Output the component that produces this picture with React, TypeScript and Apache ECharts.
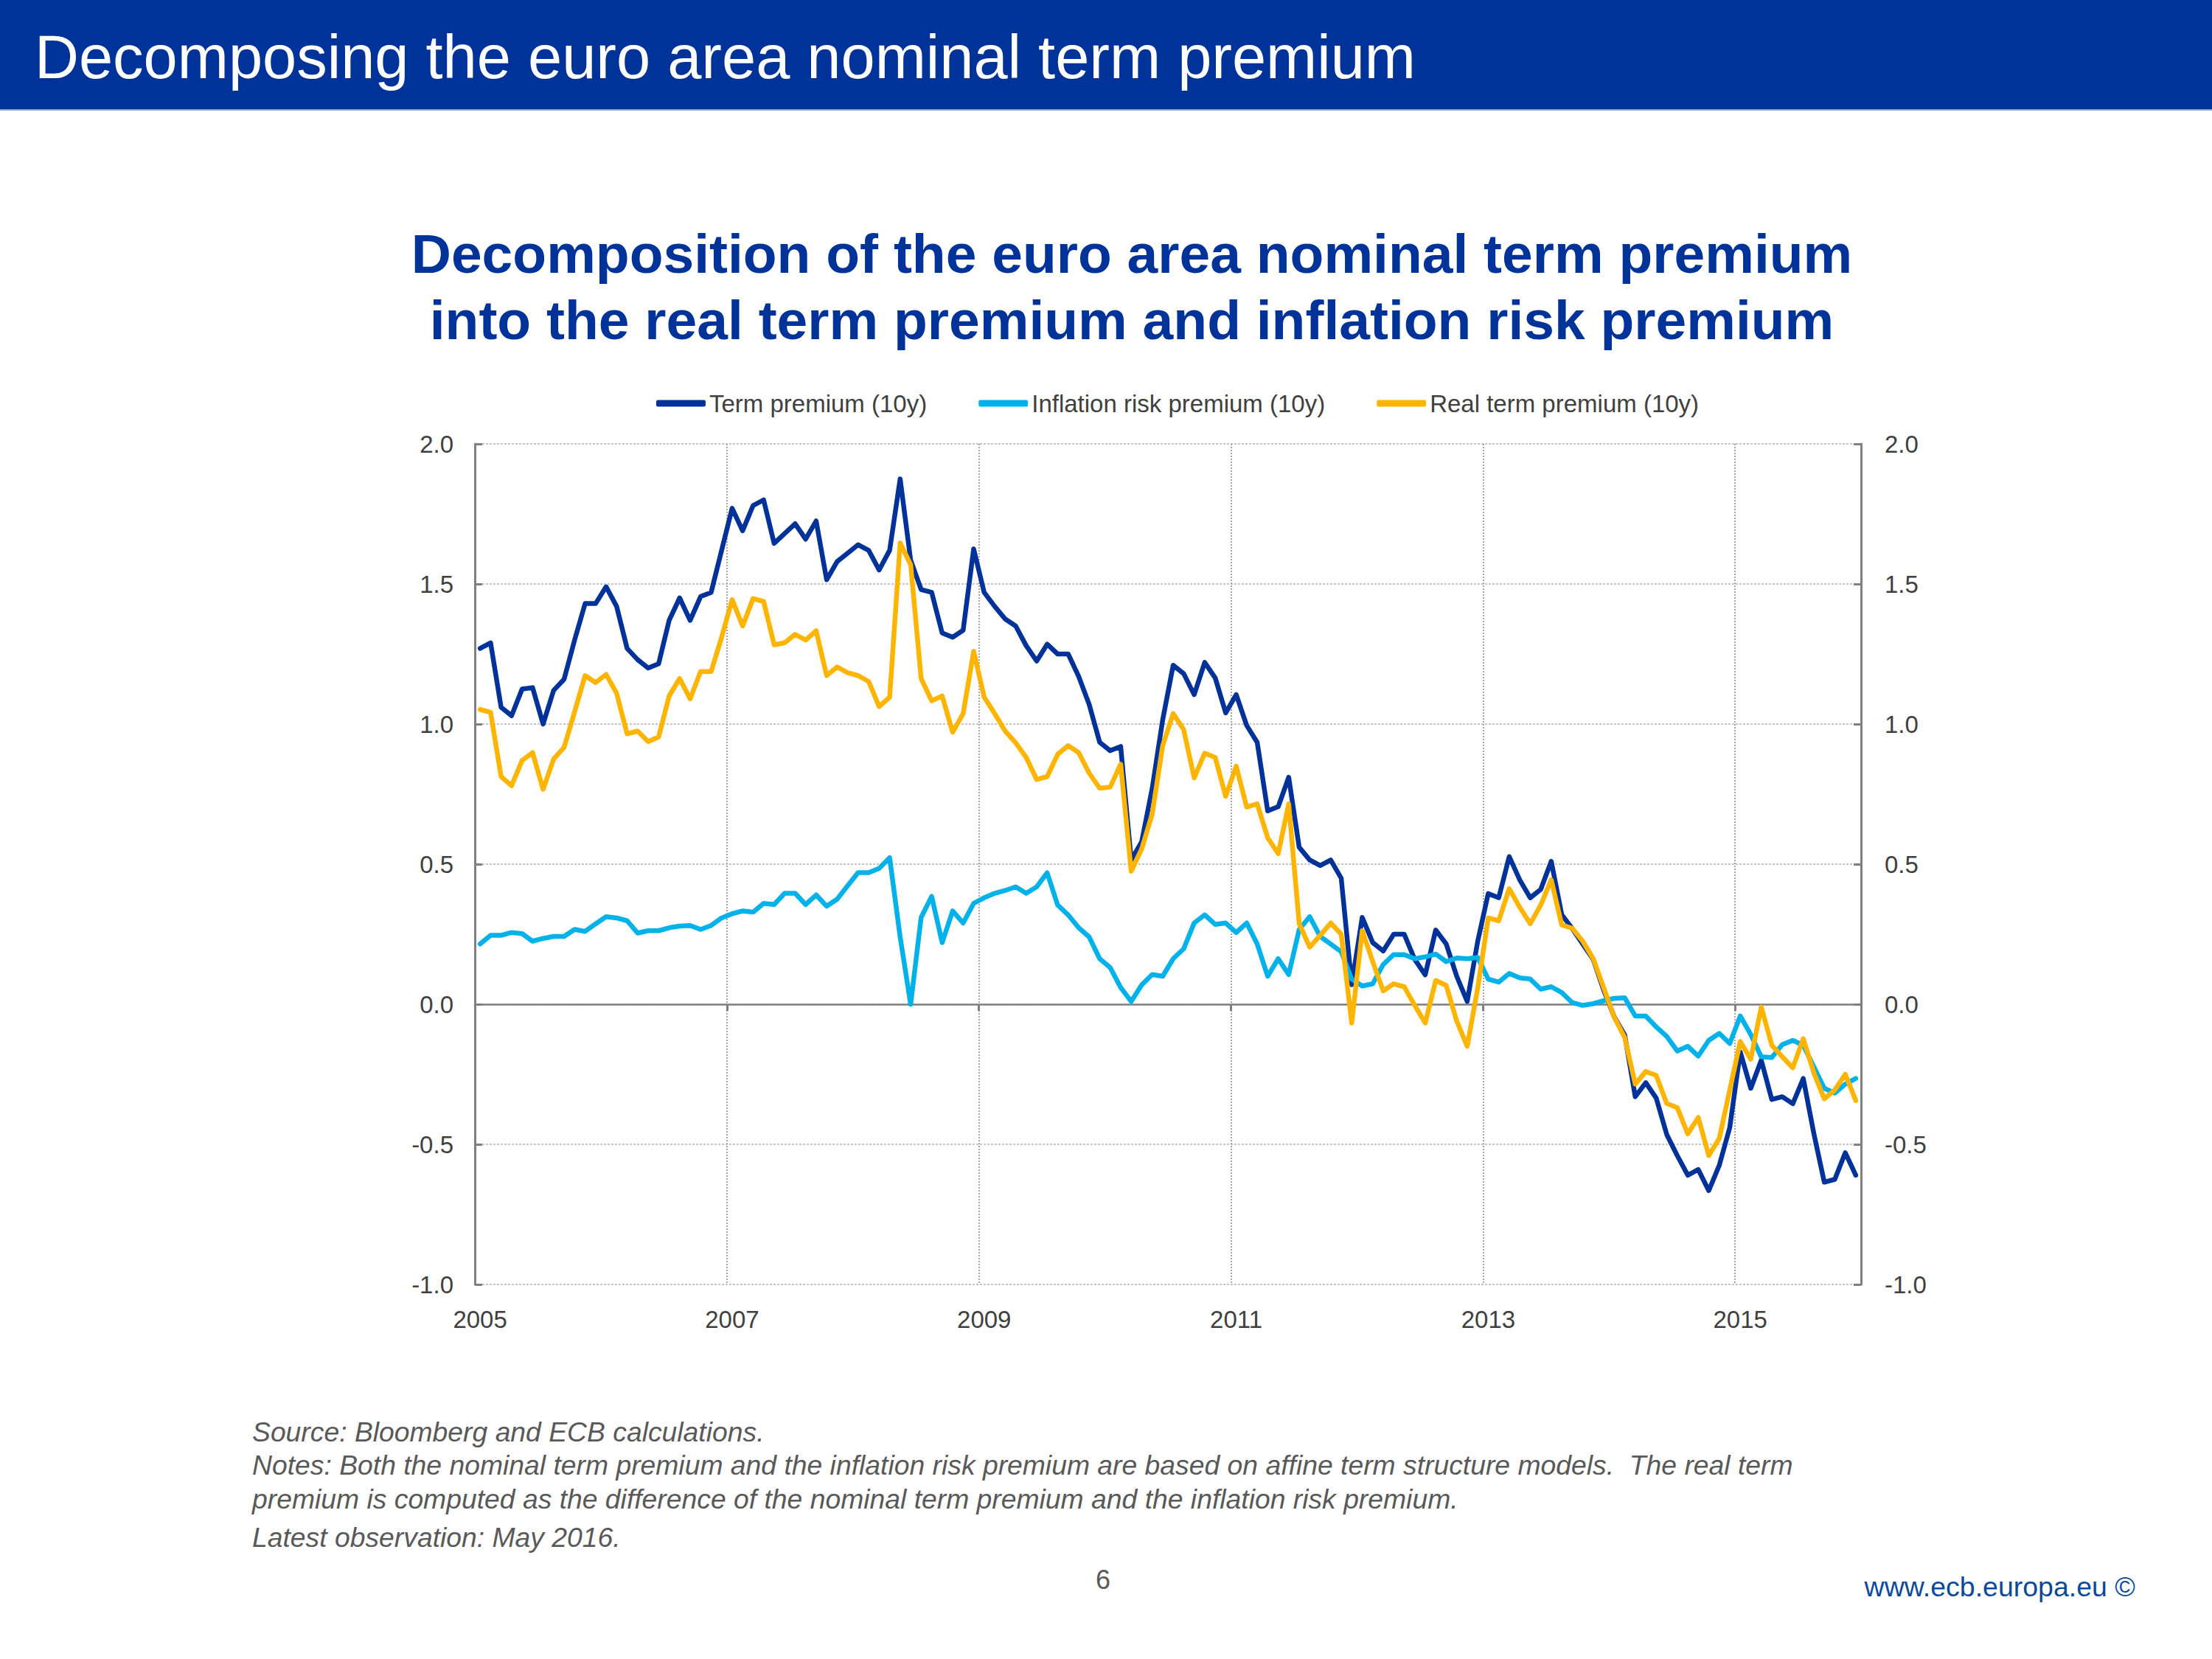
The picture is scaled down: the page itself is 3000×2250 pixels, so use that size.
import React, { useEffect, useRef } from "react";
import * as echarts from "echarts";

// ---------- data ----------
const START_YEAR = 2005;
const MONTH_COUNT = 132; // Jan 2005 .. Dec 2015
const months: string[] = Array.from({ length: MONTH_COUNT }, (_, i) =>
  `${START_YEAR + Math.floor(i / 12)}-${String((i % 12) + 1).padStart(2, "0")}`
);
const YEAR_LABEL_STEP = 24; // label every second January

const seriesNames = ["Term premium (10y)", "Inflation risk premium (10y)", "Real term premium (10y)"];

const termPremium = [
  1.27, 1.29, 1.06, 1.03, 1.125, 1.13, 1.0, 1.12, 1.16, 1.3, 1.43, 1.43,
  1.49, 1.42, 1.27, 1.23, 1.2, 1.215, 1.37, 1.45, 1.37, 1.455, 1.47, 1.62,
  1.77, 1.69, 1.78, 1.8, 1.645, 1.68, 1.715, 1.66, 1.725, 1.515, 1.58, 1.61,
  1.64, 1.62, 1.55, 1.62, 1.875, 1.585, 1.48, 1.47, 1.325, 1.31, 1.335, 1.625,
  1.47, 1.42, 1.375, 1.35, 1.28, 1.225, 1.285, 1.25, 1.25, 1.17, 1.07, 0.935,
  0.905, 0.92, 0.515, 0.58, 0.77, 1.015, 1.21, 1.18, 1.105, 1.22, 1.165, 1.04,
  1.105, 0.995, 0.935, 0.69, 0.705, 0.81, 0.56, 0.515, 0.495, 0.515, 0.45, 0.07,
  0.31, 0.22, 0.19, 0.25, 0.25, 0.16, 0.105, 0.265, 0.215, 0.1, 0.01, 0.225,
  0.395, 0.38, 0.527, 0.444, 0.38, 0.41, 0.51, 0.32, 0.27, 0.215, 0.16, 0.05,
  -0.045, -0.11, -0.33, -0.28, -0.335, -0.465, -0.54, -0.61, -0.59, -0.665, -0.575, -0.44,
  -0.17, -0.3, -0.2, -0.34, -0.33, -0.355, -0.265, -0.46, -0.635, -0.625, -0.53, -0.61,
];

const inflationRiskPremium = [
  0.215, 0.246, 0.246, 0.256, 0.252, 0.225, 0.235, 0.242, 0.242, 0.267, 0.26, 0.287,
  0.3125, 0.308, 0.298, 0.254, 0.2625, 0.2625, 0.273, 0.279, 0.281, 0.267, 0.281, 0.308,
  0.323, 0.333, 0.329, 0.36, 0.356, 0.396, 0.396, 0.356, 0.39, 0.35, 0.375, 0.423,
  0.47, 0.47, 0.485, 0.523, 0.24, 0.0, 0.31, 0.385, 0.22, 0.333, 0.29, 0.36,
  0.38, 0.396, 0.406, 0.419, 0.396, 0.419, 0.469, 0.354, 0.319, 0.273, 0.24, 0.1625,
  0.131, 0.06, 0.01, 0.069, 0.106, 0.1, 0.1625, 0.198, 0.29, 0.319, 0.285, 0.29,
  0.256, 0.29, 0.215, 0.1, 0.1625, 0.106, 0.267, 0.3125, 0.242, 0.215, 0.1875, 0.09,
  0.065, 0.073, 0.142, 0.177, 0.177, 0.1625, 0.169, 0.179, 0.152, 0.165, 0.1625, 0.167,
  0.09, 0.079, 0.11, 0.094, 0.09, 0.054, 0.0625, 0.042, 0.006, -0.004, 0.002, 0.0125,
  0.021, 0.023, -0.042, -0.042, -0.081, -0.115, -0.167, -0.15, -0.185, -0.129, -0.104, -0.14,
  -0.042, -0.108, -0.1875, -0.19, -0.144, -0.129, -0.146, -0.223, -0.3, -0.317, -0.285, -0.265,
];

const realTermPremium = [
  1.052, 1.042, 0.8125, 0.78, 0.87, 0.898, 0.767, 0.875, 0.917, 1.044, 1.173, 1.148,
  1.177, 1.11, 0.965, 0.975, 0.9375, 0.954, 1.1, 1.1625, 1.09, 1.1875, 1.1875, 1.31,
  1.444, 1.35, 1.448, 1.4375, 1.283, 1.29, 1.32, 1.3, 1.333, 1.173, 1.204, 1.183,
  1.173, 1.152, 1.0625, 1.096, 1.646, 1.569, 1.1625, 1.083, 1.1, 0.971, 1.0375, 1.26,
  1.096, 1.0375, 0.975, 0.933, 0.881, 0.802, 0.8125, 0.892, 0.923, 0.898, 0.825, 0.771,
  0.775, 0.857, 0.475, 0.554, 0.679, 0.923, 1.0375, 0.98, 0.808, 0.896, 0.881, 0.742,
  0.85, 0.704, 0.715, 0.594, 0.5375, 0.715, 0.2875, 0.204, 0.246, 0.29, 0.25, -0.067,
  0.2625, 0.152, 0.048, 0.073, 0.0625, -0.004, -0.067, 0.085, 0.067, -0.06, -0.15, 0.058,
  0.308, 0.298, 0.4125, 0.346, 0.2875, 0.354, 0.444, 0.283, 0.271, 0.225, 0.1625, 0.058,
  -0.046, -0.119, -0.285, -0.24, -0.254, -0.354, -0.369, -0.4625, -0.404, -0.54, -0.479, -0.306,
  -0.133, -0.196, -0.01, -0.146, -0.1875, -0.227, -0.123, -0.244, -0.3375, -0.306, -0.25, -0.344,
];

const Y_MIN = -1;
const Y_MAX = 2;
const Y_STEP = 0.5;

const headerText = "Decomposing the euro area nominal term premium";
const titleLines = [
  "Decomposition of the euro area nominal term premium",
  "into the real term premium and inflation risk premium",
];
const footnoteLines = [
  "Source: Bloomberg and ECB calculations.",
  "Notes: Both the nominal term premium and the inflation risk premium are based on affine term structure models.  The real term",
  "premium is computed as the difference of the nominal term premium and the inflation risk premium.",
  "Latest observation: May 2016.",
];
const pageNumber = "6";
const siteText = "www.ecb.europa.eu \u00A9";

// ---------- styles ----------
const ECB_BLUE = "#003399";
const COLORS = ["#003299", "#00B1EA", "#FFB400"];
const ARIAL = "'Liberation Sans', Arial, Helvetica, sans-serif";
const LABEL_COLOR = "#404040";
const AXIS_COLOR = "#808080";
const AXIS_FONT = 33;

const isYearTick = (i: number) => i % YEAR_LABEL_STEP === 0;

function txt(text: string, x: number, y: number, size: number, fill: string, opts: any = {}) {
  const align = opts.align || "left";
  return {
    type: "text",
    silent: true,
    style: {
      text,
      x,
      y,
      fill,
      fontSize: size,
      fontFamily: opts.family || ARIAL,
      fontWeight: opts.weight || "normal",
      fontStyle: opts.style || "normal",
      align,
      textAlign: align,
      verticalAlign: "middle",
      textVerticalAlign: "middle",
    },
  };
}

export default function App() {
  const ref = useRef<HTMLDivElement>(null);

  useEffect(() => {
    if (!ref.current) return;
    const chart = echarts.init(ref.current, undefined, { renderer: "svg" });

    const graphics: any[] = [
      { type: "rect", silent: true, shape: { x: 0, y: 0, width: 3000, height: 148 }, style: { fill: ECB_BLUE } },
      { type: "rect", silent: true, shape: { x: 0, y: 148, width: 3000, height: 2 }, style: { fill: "#8FA3D1" } },
      txt(headerText, 47, 77, 83, "#ffffff"),
      txt(titleLines[0], 1535, 344, 75, ECB_BLUE, { align: "center", weight: "bold" }),
      txt(titleLines[1], 1535, 434, 75, ECB_BLUE, { align: "center", weight: "bold" }),
      txt(footnoteLines[0], 342, 1942, 37.3, "#595959", { style: "italic" }),
      txt(footnoteLines[1], 342, 1987, 37.3, "#595959", { style: "italic" }),
      txt(footnoteLines[2], 342, 2033, 37.3, "#595959", { style: "italic" }),
      txt(footnoteLines[3], 342, 2085, 37.3, "#595959", { style: "italic" }),
      txt(pageNumber, 1496, 2142, 36, "#595959", { align: "center" }),
      txt(siteText, 2896, 2152, 37.5, "#0B4A9A", { align: "right" }),
    ];

    const yAxisBase = (position: "left" | "right", margin: number, showSplit: boolean) => ({
      type: "value",
      position,
      min: Y_MIN,
      max: Y_MAX,
      interval: Y_STEP,
      axisLine: { show: true, onZero: false, lineStyle: { color: AXIS_COLOR, width: 3 } },
      axisTick: { show: true, inside: true, length: 10, lineStyle: { color: AXIS_COLOR, width: 3 } },
      axisLabel: {
        formatter: (v: number) => v.toFixed(1),
        fontFamily: ARIAL,
        fontSize: AXIS_FONT,
        color: LABEL_COLOR,
        margin,
      },
      splitLine: { show: showSplit, lineStyle: { color: "#B3B3B3", width: 1.5, type: [3, 2] } },
    });

    const option: any = {
      animation: false,
      backgroundColor: "#ffffff",
      textStyle: { fontFamily: ARIAL },
      graphic: graphics,
      legend: {
        data: seriesNames,
        left: 890,
        top: 527,
        padding: 0,
        icon: "roundRect",
        itemWidth: 67,
        itemHeight: 9,
        itemGap: 70,
        textStyle: { fontFamily: ARIAL, fontSize: 33, color: LABEL_COLOR, lineHeight: 40 },
      },
      grid: { left: 644, right: 476, top: 602, bottom: 508, containLabel: false },
      xAxis: [
        {
          type: "category",
          data: months,
          boundaryGap: true,
          position: "bottom",
          axisLine: { show: false, onZero: false },
          axisTick: { show: false },
          axisLabel: {
            interval: (i: number) => isYearTick(i),
            formatter: (v: string) => v.slice(0, 4),
            fontFamily: ARIAL,
            fontSize: AXIS_FONT,
            color: LABEL_COLOR,
            margin: 31,
          },
          splitLine: {
            show: true,
            interval: (i: number) => isYearTick(i),
            lineStyle: { color: "#A6A6A6", width: 2, type: [2, 2] },
          },
        },
        {
          type: "category",
          data: months,
          boundaryGap: true,
          position: "bottom",
          axisLine: { show: true, onZero: true, lineStyle: { color: AXIS_COLOR, width: 2.5 } },
          axisTick: {
            show: true,
            interval: (i: number) => isYearTick(i),
            length: 9,
            lineStyle: { color: AXIS_COLOR, width: 3 },
          },
          axisLabel: { show: false },
          splitLine: { show: false },
        },
      ],
      yAxis: [yAxisBase("left", 29, true), yAxisBase("right", 32, false)],
      series: [termPremium, inflationRiskPremium, realTermPremium].map((d, k) => ({
        name: seriesNames[k],
        type: "line",
        data: d,
        xAxisIndex: 0,
        yAxisIndex: 0,
        symbol: "none",
        showSymbol: false,
        color: COLORS[k],
        lineStyle: { color: COLORS[k], width: 6.5, join: "round", cap: "round" },
        z: 3 + k,
      })),
    };

    chart.setOption(option);
    return () => chart.dispose();
  }, []);

  return (
    <div
      ref={ref}
      style={{ position: "absolute", left: 0, top: 0, width: 3000, height: 2250, background: "#fff" }}
    />
  );
}
